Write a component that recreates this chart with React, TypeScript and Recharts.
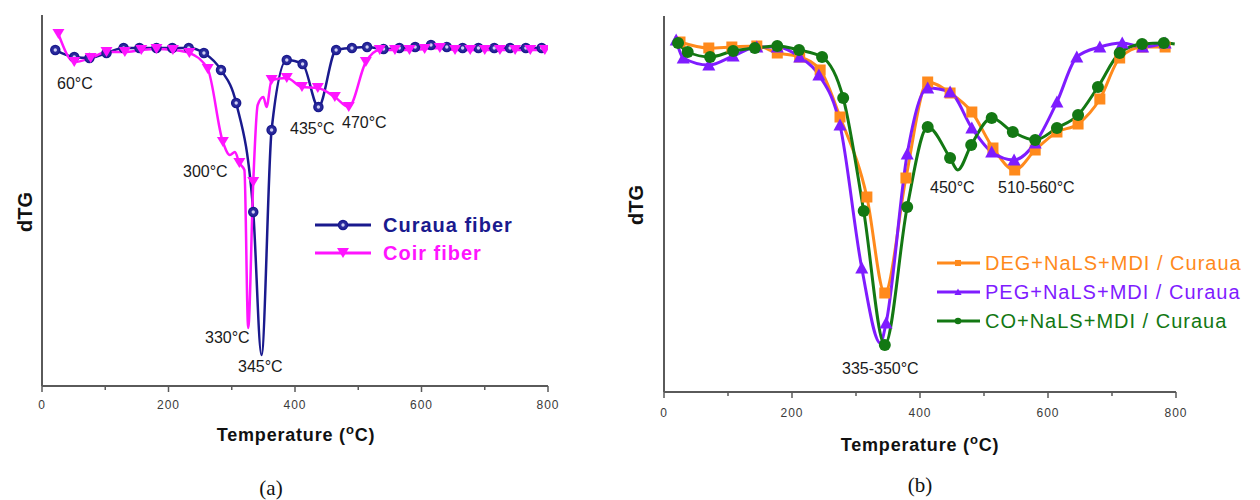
import React from 'react';
import { LineChart, Line, XAxis, YAxis } from 'recharts';

// ---------- data (a) ----------
const curauaT = [21, 51, 75, 102, 129, 154, 181, 206, 232, 256, 283, 307, 334, 347, 363, 387, 412, 437, 465, 490, 514, 540, 565, 590, 615, 640, 665, 690, 715, 740, 765, 790];
const curauaV = [-0.02, -0.09, -0.1, -0.05, 0, 0, 0, 0, 0, -0.05, -0.22, -0.55, -1.64, -3.07, -0.82, -0.12, -0.16, -0.59, -0.02, 0, 0.01, -0.01, 0, 0.01, 0.03, 0.01, 0, 0, 0, 0, 0, 0];
const curauaUnmarked = [347];

const coirT = [26, 51, 77, 102, 131, 157, 181, 207, 233, 262, 286, 297, 305, 312, 320, 326, 334, 341, 350, 355, 363, 387, 411, 436, 463, 485, 512, 534, 558, 581, 605, 629, 653, 677, 700, 724, 748, 772, 795];
const coirV = [0.14, -0.14, -0.1, -0.04, -0.04, -0.02, -0.01, -0.02, -0.05, -0.21, -0.94, -1.07, -1.04, -1.15, -1.22, -2.8, -1.34, -0.57, -0.49, -0.59, -0.32, -0.3, -0.39, -0.4, -0.49, -0.59, -0.14, -0.02, -0.02, -0.02, -0.01, 0, -0.02, -0.02, -0.02, -0.02, -0.02, -0.02, -0.02];
const coirUnmarked = [297, 305, 320, 326, 341, 350, 355];

// ---------- data (b) ----------
const degT = [25, 70, 106, 145, 177, 212, 244, 275, 317, 345, 378, 412, 447, 481, 514, 548, 580, 614, 647, 681, 712, 747, 783];
const degV = [0.06, 0, 0.01, 0.02, -0.05, -0.09, -0.22, -0.69, -1.49, -2.45, -1.3, -0.34, -0.45, -0.64, -1.0, -1.22, -1.02, -0.84, -0.76, -0.51, -0.1, 0.01, 0.01];
const degUnmarked: number[] = [];

const pegT = [19, 30, 70, 108, 145, 177, 212, 242, 275, 309, 338, 347, 380, 412, 447, 481, 512, 547, 580, 614, 645, 681, 716, 748, 783];
const pegV = [0.08, -0.1, -0.17, -0.08, 0.01, 0.01, -0.09, -0.27, -0.77, -2.2, -2.95, -2.75, -1.06, -0.4, -0.44, -0.8, -1.04, -1.12, -0.95, -0.54, -0.09, 0.01, 0.05, 0.01, 0.05];
const pegUnmarked = [338];

const coT = [22, 37, 72, 108, 142, 177, 211, 247, 280, 312, 345, 380, 412, 447, 459, 480, 512, 545, 580, 614, 647, 678, 712, 747, 781, 798];
const coV = [0.05, -0.04, -0.09, -0.03, 0, 0.02, -0.02, -0.09, -0.5, -1.63, -2.97, -1.59, -0.79, -1.1, -1.22, -0.97, -0.7, -0.84, -0.92, -0.8, -0.67, -0.39, -0.05, 0.04, 0.05, 0.04];
const coUnmarked = [459, 798];

const xTicks = [0, 100, 200, 300, 400, 500, 600, 700, 800];

const seriesNamesA = ['Curaua fiber', 'Coir fiber'];
const seriesNamesB = ['DEG+NaLS+MDI / Curaua', 'PEG+NaLS+MDI / Curaua', 'CO+NaLS+MDI / Curaua'];

const peakLabelsA = ['60°C', '300°C', '330°C', '345°C', '435°C', '470°C'];
const peakLabelsB = ['335-350°C', '450°C', '510-560°C'];

// ---------- helpers ----------
const toData = (ts: number[], vs: number[]) => ts.map((t, i) => ({ t, v: vs[i] }));

const NAVY = '#1a1a8e';
const PINK = '#ff14ff';
const ORANGE = '#ff8a1c';
const PURPLE = '#7f1cff';
const GREEN = '#137813';
const AXIS = '#5a5a5a';
const FONT = '"Liberation Sans", Arial, sans-serif';

type Shape = 'circleOpen' | 'triDown' | 'square' | 'triUp' | 'circle';

const marker = (shape: Shape, color: string, cx: number, cy: number, s = 1, key?: any) => {
  switch (shape) {
    case 'circleOpen':
      return (
        <g key={key}>
          <circle cx={cx} cy={cy} r={4.5 * s} fill="#2a2a9c" stroke={color} strokeWidth={1.5} />
          <circle cx={cx} cy={cy} r={1.7 * s} fill="#d0d0f4" />
        </g>
      );
    case 'triDown':
      return <polygon key={key} points={`${cx - 6 * s},${cy - 5 * s} ${cx + 6 * s},${cy - 5 * s} ${cx},${cy + 5 * s}`} fill={color} />;
    case 'square':
      return <rect key={key} x={cx - 5.5 * s} y={cy - 5.5 * s} width={11 * s} height={11 * s} fill={color} />;
    case 'triUp':
      return <polygon key={key} points={`${cx - 6.5 * s},${cy + 5.5 * s} ${cx + 6.5 * s},${cy + 5.5 * s} ${cx},${cy - 6.5 * s}`} fill={color} />;
    case 'circle':
    default:
      return <circle key={key} cx={cx} cy={cy} r={6 * s} fill={color} />;
  }
};

const makeDot = (shape: Shape, color: string, skip: number[]) => (props: any) => {
  const { cx, cy, payload, index } = props;
  if (cx == null || cy == null || skip.includes(payload.t)) return <g key={`d${index}`} />;
  return marker(shape, color, cx, cy, 1, `d${index}`);
};

const makeTick = (labelOffset: number) => (props: any) => {
  const { x, y, payload } = props;
  const major = payload.value % 200 === 0;
  return (
    <g>
      <line x1={x} x2={x} y1={y} y2={y + (major ? 6 : 4)} stroke={AXIS} strokeWidth={1.5} />
      {major && (
        <text x={x} y={y + labelOffset} dy="0.35em" textAnchor="middle" fontSize={12} fill="#3a3a3a" fontFamily={FONT} letterSpacing={1}>
          {payload.value}
        </text>
      )}
    </g>
  );
};

const TickA = makeTick(19);
const TickB = makeTick(21);

const TempTitle = ({ x, y }: { x: number; y: number }) => (
  <text x={x} y={y} dy="0.35em" textAnchor="middle" fontFamily={FONT} fontWeight="bold" fontSize={18} letterSpacing={0.8} fill="#111">
    Temperature (<tspan fontSize={13} dy={-7}>o</tspan>
    <tspan dy={7}>C)</tspan>
  </text>
);

const Ann = ({ x, y, children }: any) => (
  <text x={x} y={y} dy="0.35em" fontFamily={FONT} fontSize={16} fill="#1a1a1a">
    {children}
  </text>
);

export default function App() {
  const curaua = toData(curauaT, curauaV);
  const coir = toData(coirT, coirV);
  const deg = toData(degT, degV);
  const peg = toData(pegT, pegV);
  const co = toData(coT, coV);

  return (
    <div style={{ position: 'absolute', left: 0, top: 0, width: 1260, height: 500, background: '#fff' }}>
      <div style={{ position: 'absolute', left: 0, top: 0 }}>
        <LineChart width={620} height={500} margin={{ top: 15, right: 72, bottom: 84, left: 41 }}>
          <XAxis type="number" dataKey="t" domain={[0, 800]} ticks={xTicks} interval={0} tickSize={0} tickMargin={0}
            tick={<TickA />} axisLine={{ stroke: AXIS, strokeWidth: 2 }} height={30} allowDataOverflow />
          <YAxis type="number" domain={[-3.38, 0.33]} tick={false} tickLine={false} axisLine={{ stroke: AXIS, strokeWidth: 2 }} width={1} allowDataOverflow />
          <Line data={curaua} dataKey="v" type="monotone" stroke={NAVY} strokeWidth={2.5} dot={makeDot('circleOpen', NAVY, curauaUnmarked)} activeDot={false} isAnimationActive={false} />
          <Line data={coir} dataKey="v" type="monotone" stroke={PINK} strokeWidth={2.5} dot={makeDot('triDown', PINK, coirUnmarked)} activeDot={false} isAnimationActive={false} />
        </LineChart>
      </div>
      <div style={{ position: 'absolute', left: 620, top: 0 }}>
        <LineChart width={640} height={500} margin={{ top: 16, right: 84, bottom: 78, left: 43 }}>
          <XAxis type="number" dataKey="t" domain={[0, 800]} ticks={xTicks} interval={0} tickSize={0} tickMargin={0}
            tick={<TickB />} axisLine={{ stroke: AXIS, strokeWidth: 2 }} height={30} allowDataOverflow />
          <YAxis type="number" domain={[-3.44, 0.32]} tick={false} tickLine={false} axisLine={{ stroke: AXIS, strokeWidth: 2 }} width={1} allowDataOverflow />
          <Line data={deg} dataKey="v" type="monotone" stroke={ORANGE} strokeWidth={3} dot={makeDot('square', ORANGE, degUnmarked)} activeDot={false} isAnimationActive={false} />
          <Line data={peg} dataKey="v" type="monotone" stroke={PURPLE} strokeWidth={3} dot={makeDot('triUp', PURPLE, pegUnmarked)} activeDot={false} isAnimationActive={false} />
          <Line data={co} dataKey="v" type="monotone" stroke={GREEN} strokeWidth={3} dot={makeDot('circle', GREEN, coUnmarked)} activeDot={false} isAnimationActive={false} />
        </LineChart>
      </div>
      <svg width={1260} height={500} style={{ position: 'absolute', left: 0, top: 0, pointerEvents: 'none' }}>
        {/* y titles */}
        <text transform="translate(25,212) rotate(-90)" dy="0.35em" textAnchor="middle" fontFamily={FONT} fontWeight="bold" fontSize={20} fill="#111">dTG</text>
        <text transform="translate(636,205) rotate(-90)" dy="0.35em" textAnchor="middle" fontFamily={FONT} fontWeight="bold" fontSize={20} fill="#111">dTG</text>
        {/* x titles */}
        <TempTitle x={296} y={435} />
        <TempTitle x={920} y={445} />
        {/* panel letters */}
        <text x={271} y={488} dy="0.35em" textAnchor="middle" fontFamily='"Liberation Serif", "Times New Roman", serif' fontSize={21} fill="#111">(a)</text>
        <text x={920} y={485} dy="0.35em" textAnchor="middle" fontFamily='"Liberation Serif", "Times New Roman", serif' fontSize={21} fill="#111">(b)</text>
        {/* annotations (a) */}
        <Ann x={57} y={83}>{peakLabelsA[0]}</Ann>
        <Ann x={183} y={171}>{peakLabelsA[1]}</Ann>
        <Ann x={205} y={337}>{peakLabelsA[2]}</Ann>
        <Ann x={238} y={366}>{peakLabelsA[3]}</Ann>
        <Ann x={290} y={128}>{peakLabelsA[4]}</Ann>
        <Ann x={342} y={122}>{peakLabelsA[5]}</Ann>
        {/* annotations (b) */}
        <Ann x={842} y={368}>{peakLabelsB[0]}</Ann>
        <Ann x={930} y={187}>{peakLabelsB[1]}</Ann>
        <Ann x={998} y={187}>{peakLabelsB[2]}</Ann>
        {/* legend (a) */}
        <line x1={315} x2={371} y1={225} y2={225} stroke={NAVY} strokeWidth={3} />
        {marker('circleOpen', NAVY, 343, 225)}
        <text x={383} y={225} dy="0.35em" fontFamily={FONT} fontWeight="bold" fontSize={20} letterSpacing={1} fill={NAVY}>{seriesNamesA[0]}</text>
        <line x1={315} x2={371} y1={253} y2={253} stroke={PINK} strokeWidth={3} />
        {marker('triDown', PINK, 343, 253)}
        <text x={383} y={253} dy="0.35em" fontFamily={FONT} fontWeight="bold" fontSize={20} letterSpacing={1} fill={PINK}>{seriesNamesA[1]}</text>
        {/* legend (b) */}
        <line x1={937} x2={980} y1={263} y2={263} stroke={ORANGE} strokeWidth={3} />
        {marker('square', ORANGE, 958, 263, 0.55)}
        <text x={985} y={263} dy="0.35em" fontFamily={FONT} fontSize={20} letterSpacing={1} fill={ORANGE}>{seriesNamesB[0]}</text>
        <line x1={937} x2={980} y1={292} y2={292} stroke={PURPLE} strokeWidth={3} />
        {marker('triUp', PURPLE, 958, 292, 0.55)}
        <text x={985} y={292} dy="0.35em" fontFamily={FONT} fontSize={20} letterSpacing={1} fill={PURPLE}>{seriesNamesB[1]}</text>
        <line x1={937} x2={980} y1={321} y2={321} stroke={GREEN} strokeWidth={3} />
        {marker('circle', GREEN, 958, 321, 0.55)}
        <text x={985} y={321} dy="0.35em" fontFamily={FONT} fontSize={20} letterSpacing={1} fill={GREEN}>{seriesNamesB[2]}</text>
      </svg>
    </div>
  );
}
